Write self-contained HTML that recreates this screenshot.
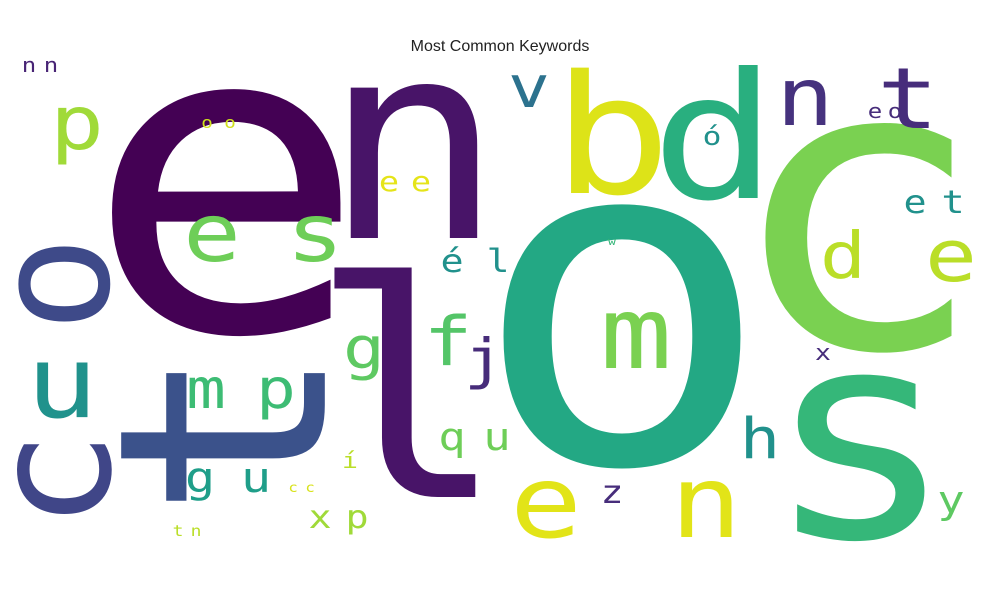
<!DOCTYPE html>
<html><head><meta charset="utf-8"><style>
html,body{margin:0;padding:0;background:#fff;}
svg{display:block;}
text{font-family:"DejaVu Sans Mono","Liberation Mono",monospace;}
</style></head><body>
<svg id="cloud" width="1000" height="600" viewBox="0 0 1000 600" xmlns="http://www.w3.org/2000/svg">
<rect width="1000" height="600" fill="#fff"/>
<text x="500" y="51" text-anchor="middle" style="font-family:'Liberation Sans',sans-serif" font-size="16" fill="#222">Most Common Keywords</text>
<g id="words"></g>
</svg>
<script>
// glyph data: character, font size (weight), color
const glyphs = ["e","n","l","o","b","d","c","s","t","n","v","p","e","s","o","u","c","t","m","p","g","u","g","f","j","é","l","e","e","o","o","n","n","ó","e","o","e","t","d","e","w","x","m","q","u","h","e","n","z","c","c","í","x","p","t","n","y"];
const sizes  = [430,275,300,460,165,175,400,290,85,80,58,75,80,80,160,100,165,290,55,55,42,42,58,68,55,32,32,28,28,16,16,20,20,26,20,20,32,32,64,72,11,22,100,38,38,56,100,100,32,13,13,22,32,32,15,15,38];
const colors = ["#440154","#481468","#481468","#23a884","#dde318","#29af7f","#7ad151","#35b779","#472d7b","#46327e","#2c728e","#a0da39","#6ece58","#6ece58","#3e4a89","#20928c","#404688","#3b528b","#3dbc74","#3dbc74","#1f9e89","#1f9e89","#5ec962","#54c568","#472c7a","#21918c","#21918c","#e5e419","#e5e419","#d0e11c","#d0e11c","#482475","#482475","#21918c","#472d7b","#472d7b","#21918c","#21918c","#bade28","#bade28","#35b779","#472d7b","#7ad151","#6ece58","#6ece58","#21918c","#e2e418","#e2e418","#472d7b","#d8e219","#d8e219","#bade28","#a0da39","#a0da39","#bade28","#bade28","#5ec962"];
// layout (center x, baseline y, rotation) produced by the cloud placer
const cx   = [226,413,408,622,612,714,856,860,908,805,529,77,212,315,64,62,64,245,206,276,200,256,364,448,484,452,498,389,421,207,230,29,51,712,875,895,915,953,843,951,612,823,636,452,497,760,546,706,612,293,310,350,320,357,178,196,951];
const cy   = [330,238,497,462,193,198,347,537,128,125,107,149,261,261,284,417,480,432,408,408,492,492,368,365,378,272,272,191,191,128,128,72,72,145,118,118,213,213,278,281,245,360,368,450,450,458,537,537,503,492,492,468,528,528,536,536,513];
const rot  = [0,0,0,0,0,0,0,0,0,0,0,0,0,0,-90,0,-90,-90,0,0,0,0,0,0,0,0,0,0,0,0,0,0,0,0,0,0,0,0,0,0,0,0,0,0,0,0,0,0,0,0,0,0,0,0,0,0,0];
const g = document.getElementById('words');
const NS = 'http://www.w3.org/2000/svg';
for (let i = 0; i < glyphs.length; i++) {
  const t = document.createElementNS(NS, 'text');
  t.textContent = glyphs[i];
  t.setAttribute('font-size', sizes[i]);
  t.setAttribute('fill', colors[i]);
  t.setAttribute('text-anchor', 'middle');
  t.setAttribute('x', 0);
  if (rot[i] !== 0) {
    t.setAttribute('y', (0.275 * sizes[i]).toFixed(1));
    t.setAttribute('transform', 'translate(' + cx[i] + ',' + cy[i] + ') rotate(' + rot[i] + ')');
  } else {
    const sx = sizes[i] > 250 ? 1.1 : 1.2;
    t.setAttribute('y', 0);
    t.setAttribute('transform', 'translate(' + cx[i] + ',' + cy[i] + ') scale(' + sx + ',1)');
  }
  
  
  g.appendChild(t);
}
</script>
</body></html>
